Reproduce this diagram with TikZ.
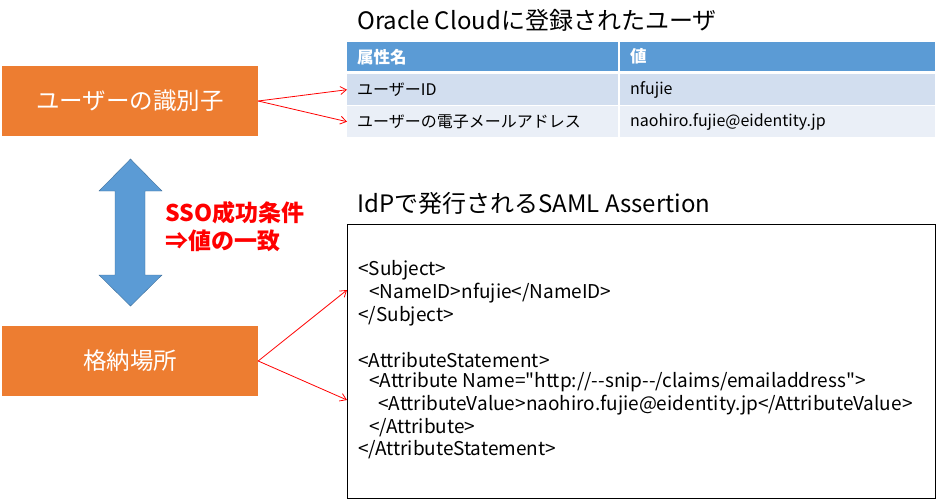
\documentclass[tikz,border=0pt]{standalone}
\usepackage{fontspec}
\setmainfont{Noto Sans CJK JP}[Ligatures=TeXOff]
\usetikzlibrary{arrows.meta, positioning, calc}
\definecolor{orangebox}{HTML}{ED7D31}
\definecolor{hdrblue}{HTML}{5B9BD5}
\definecolor{rowone}{HTML}{D2DEEF}
\definecolor{rowtwo}{HTML}{EAEFF7}
\definecolor{arrowedge}{HTML}{41719C}

\begin{document}
\begin{tikzpicture}[x=1pt, y=-1pt, >={Straight Barb[length=6pt, width=8pt]},
        idbox/.style={fill=orangebox, text=white, minimum width=256pt, minimum height=70pt, font=\fontsize{23.5}{27}\selectfont},
        cell/.style={anchor=north west, inner xsep=10pt, inner ysep=0pt, align=left, font=\fontsize{16}{19}\selectfont},
        link/.style={->, red, line width=0.8pt},
        code/.style={anchor=west, inner sep=0pt, font=\fontsize{19}{22}\selectfont}]
        \useasboundingbox (0,0) rectangle (939,499);
        \node[idbox] (userid) at (130,101) {ユーザーの識別子};
        \node[idbox] (store) at (130,361) {格納場所};
        \filldraw[fill=hdrblue, draw=arrowedge] (99,191) -- (130.5,159) -- (162,191) -- (145,191) -- (145,275) -- (162,275) -- (130.5,306) -- (99,275) -- (115,275) -- (115,191) -- cycle;
        \node[anchor=north west, red, inner sep=0pt, align=left, font=\bfseries\fontsize{23}{28}\selectfont] (cond) at (165,201) {SSO成功条件\\⇒値の一致};

        \node[anchor=west, inner sep=0pt, font=\fontsize{24}{28}\selectfont] (cloud) at (357,20) {Oracle Cloudに登録されたユーザ};
        \node[cell, fill=hdrblue, text=white, text width=251pt, minimum height=29pt, font=\bfseries\fontsize{16.5}{19}\selectfont] (hname) at (347,42) {属性名};
        \node[cell, fill=hdrblue, text=white, text width=295pt, minimum height=29pt, font=\bfseries\fontsize{16.5}{19}\selectfont] (hval) at (620,42) {値};
        \node[cell, fill=rowone, text width=251pt, minimum height=31pt] (r1name) at (347,74) {ユーザーID};
        \node[cell, fill=rowone, text width=295pt, minimum height=31pt] (r1val) at (620,74) {nfujie};
        \node[cell, fill=rowtwo, text width=251pt, minimum height=31pt] (r2name) at (347,106) {ユーザーの電子メールアドレス};
        \node[cell, fill=rowtwo, text width=295pt, minimum height=31pt] (r2val) at (620,106) {naohiro.fujie@eidentity.jp};

        \node[anchor=west, inner sep=0pt, font=\fontsize{24}{28}\selectfont] (samltitle) at (357,203) {IdPで発行されるSAML Assertion};
        \node[draw, line width=1pt, anchor=north west, inner sep=0pt, minimum width=588pt, minimum height=274pt] (samlbox) at (347,224) {};
        \node[code] (l1) at (358,270) {<Subject>};
        \node[code] (l2) at (369,293) {<NameID>nfujie</NameID>};
        \node[code] (l3) at (358,316) {</Subject>};
        \node[code] (l4) at (358,360) {<AttributeStatement>};
        \node[code] (l5) at (369,382) {<Attribute Name="http://-{}-snip-{}-/claims/emailaddress">};
        \node[code] (l6) at (378,405) {<AttributeValue>naohiro.fujie@eidentity.jp</AttributeValue>};
        \node[code] (l7) at (369,428) {</Attribute>};
        \node[code] (l8) at (358,450) {</AttributeStatement>};

        \coordinate (tipA) at (347,290);
        \coordinate (tipB) at (347,400);
        \draw[link] (userid.east) -- (r1name.west);
        \draw[link] (userid.east) -- (r2name.west);
        \draw[link] (store.east) -- (tipA);
        \draw[link] (store.east) -- (tipB);
    \end{tikzpicture}
\end{document}
